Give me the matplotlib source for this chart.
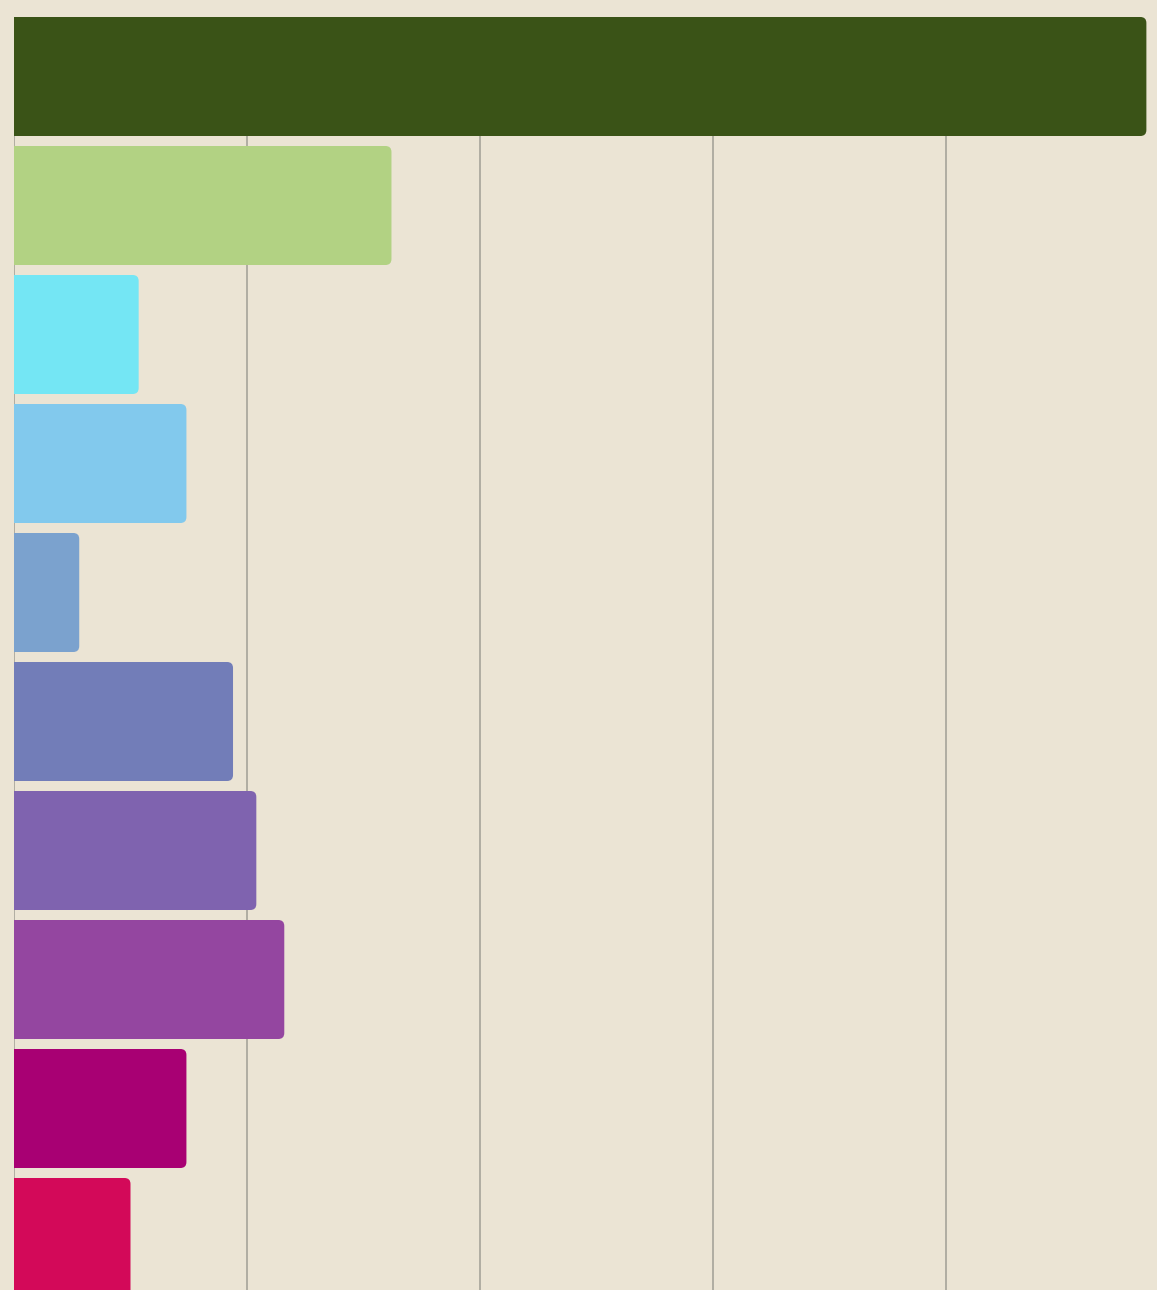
import matplotlib
matplotlib.use("Agg")
import matplotlib.pyplot as plt
from matplotlib.patches import FancyBboxPatch

# bar values (grid step = 20)
categories = ["A", "B", "C", "D", "E", "F", "G", "H", "I", "J"]
values = [97.2, 32.4, 10.7, 14.8, 5.6, 18.8, 20.8, 23.2, 14.8, 10.0]
colors = ["#3a5317", "#b2d283", "#74e6f4", "#82c9ed", "#7ba2ce",
          "#727db8", "#7f63af", "#9446a0", "#a80073", "#d30959"]
grid_ticks = [0, 20, 40, 60, 80]

W, H = 1157, 1290
bg = "#ebe4d4"

fig = plt.figure(figsize=(W / 100, H / 100), dpi=100, facecolor=bg)
# plot area runs from x=14 and y=17, clipped on the right and bottom
left, top = 14, 17
right, bottom = 1157, 1297
ax = fig.add_axes([left / W, 1 - bottom / H, (right - left) / W, (bottom - top) / H])
ax.set_facecolor(bg)

bar_h = 119 / 129
px_per_x = 233 / 20
ax.set_xlim(0, (right - left) / px_per_x)
ax.set_ylim(len(values) - 1 + bar_h / 2, -bar_h / 2)

# gridlines behind the bars
for g in grid_ticks:
    ax.axvline(g, color="#b0ada2", lw=1.4, zorder=0)

# draw bars, then swap them for rounded ones (right corners only visible)
bars = ax.barh(range(len(values)), values, height=bar_h, color=colors)
r_px = 6
rx = r_px / px_per_x
ry = r_px / 129
for b, c in zip(bars, colors):
    x0, y0 = b.get_x(), b.get_y()
    w, h = b.get_width(), b.get_height()
    b.set_visible(False)
    p = FancyBboxPatch((x0 - rx * 2, y0), w + rx * 2, h,
                       boxstyle=f"round,pad=0,rounding_size={rx}",
                       mutation_aspect=ry / rx,
                       facecolor=c, edgecolor="none", zorder=2)
    ax.add_patch(p)

ax.set_xticks([])
ax.set_yticks([])
for s in ax.spines.values():
    s.set_visible(False)

fig.savefig("out.png", dpi=100, facecolor=bg)
